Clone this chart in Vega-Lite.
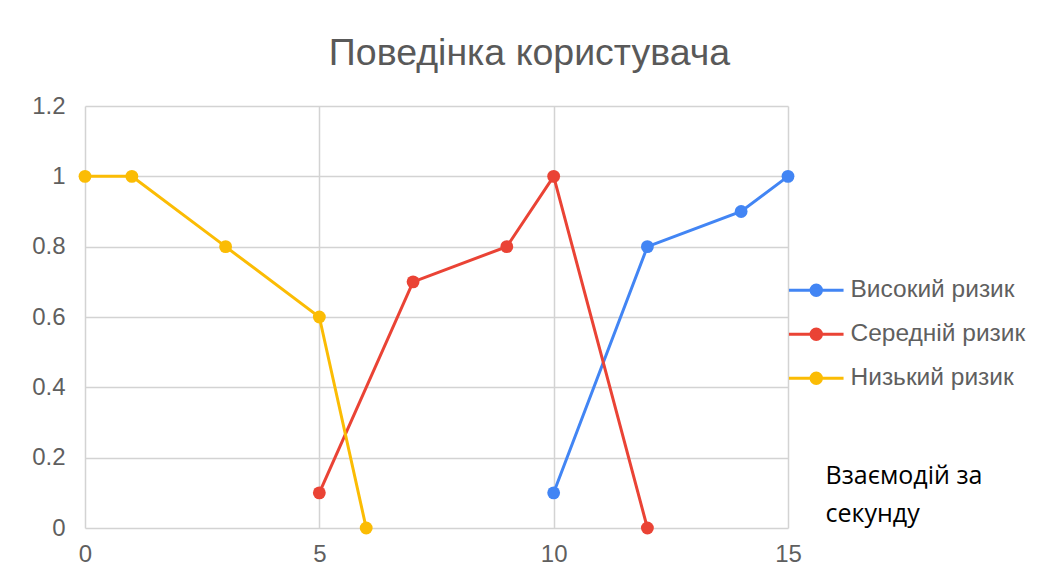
{
  "$schema": "https://vega.github.io/schema/vega-lite/v6.json",
  "width": 703,
  "height": 422,
  "autosize": {"type": "none"},
  "padding": {"left": 85, "top": 106, "right": 250, "bottom": 54},
  "background": "white",
  "title": {
    "text": "Поведінка користувача",
    "font": "Liberation Sans",
    "fontSize": 37.5,
    "fontWeight": "normal",
    "color": "#595959",
    "anchor": "middle",
    "baseline": "alphabetic",
    "offset": 29,
    "dx": 93,
    "dy": 37
  },
  "data": {
    "values": [
      {"t": 10, "v": 0.1, "series": "Високий ризик"},
      {"t": 12, "v": 0.8, "series": "Високий ризик"},
      {"t": 14, "v": 0.9, "series": "Високий ризик"},
      {"t": 15, "v": 1.0, "series": "Високий ризик"},
      {"t": 5, "v": 0.1, "series": "Середній ризик"},
      {"t": 7, "v": 0.7, "series": "Середній ризик"},
      {"t": 9, "v": 0.8, "series": "Середній ризик"},
      {"t": 10, "v": 1.0, "series": "Середній ризик"},
      {"t": 12, "v": 0.0, "series": "Середній ризик"},
      {"t": 0, "v": 1.0, "series": "Низький ризик"},
      {"t": 1, "v": 1.0, "series": "Низький ризик"},
      {"t": 3, "v": 0.8, "series": "Низький ризик"},
      {"t": 5, "v": 0.6, "series": "Низький ризик"},
      {"t": 6, "v": 0.0, "series": "Низький ризик"}
    ]
  },
  "mark": {
    "type": "line",
    "strokeWidth": 3,
    "clip": false,
    "point": {"filled": true, "size": 165, "opacity": 1}
  },
  "encoding": {
    "x": {
      "field": "t",
      "type": "quantitative",
      "scale": {"domain": [0, 15], "nice": false, "zero": false},
      "axis": {
        "values": [0, 5, 10, 15],
        "labelFlush": false,
        "title": ["Взаємодій за", "секунду"],
        "titleFont": "Open Sans",
        "titleFontSize": 25,
        "titleFontWeight": "normal",
        "titleColor": "#000000",
        "titleAlign": "left",
        "titleAnchor": "start",
        "titleBaseline": "alphabetic",
        "titleLineHeight": 38,
        "titleX": 740,
        "titleY": -45
      }
    },
    "y": {
      "field": "v",
      "type": "quantitative",
      "scale": {"domain": [0, 1.2], "nice": false},
      "axis": {
        "values": [0, 0.2, 0.4, 0.6, 0.8, 1, 1.2],
        "format": "~g",
        "title": null,
        "labelPadding": 20
      }
    },
    "color": {
      "field": "series",
      "type": "nominal",
      "sort": null,
      "scale": {
        "domain": ["Високий ризик", "Середній ризик", "Низький ризик"],
        "range": ["#4285F4", "#EA4335", "#FBBC04"]
      },
      "legend": {
        "title": null,
        "orient": "none",
        "legendX": 719,
        "legendY": 172,
        "symbolType": "M-4.2,0H4.2M0.8,0A0.8,0.8,0,1,1,-0.8,0A0.8,0.8,0,1,1,0.8,0Z",
        "symbolSize": 169,
        "symbolStrokeWidth": 3,
        "labelOffset": 22,
        "labelLimit": 300,
        "rowPadding": 19,
        "encode": {
          "symbols": {
            "update": {
              "fill": {"scale": "color", "field": "value"},
              "stroke": {"scale": "color", "field": "value"},
              "opacity": {"value": 1}
            }
          }
        }
      }
    }
  },
  "config": {
    "view": {"stroke": null},
    "axis": {
      "labelFont": "Liberation Sans",
      "labelFontSize": 24,
      "labelColor": "#5f5f5f",
      "gridColor": "#d3d3d3",
      "gridWidth": 1.5,
      "gridOpacity": 1,
      "domain": false,
      "ticks": false
    },
    "axisX": {"labelPadding": 14},
    "legend": {
      "labelFont": "Liberation Sans",
      "labelFontSize": 24.5,
      "labelColor": "#5f5f5f"
    }
  }
}
